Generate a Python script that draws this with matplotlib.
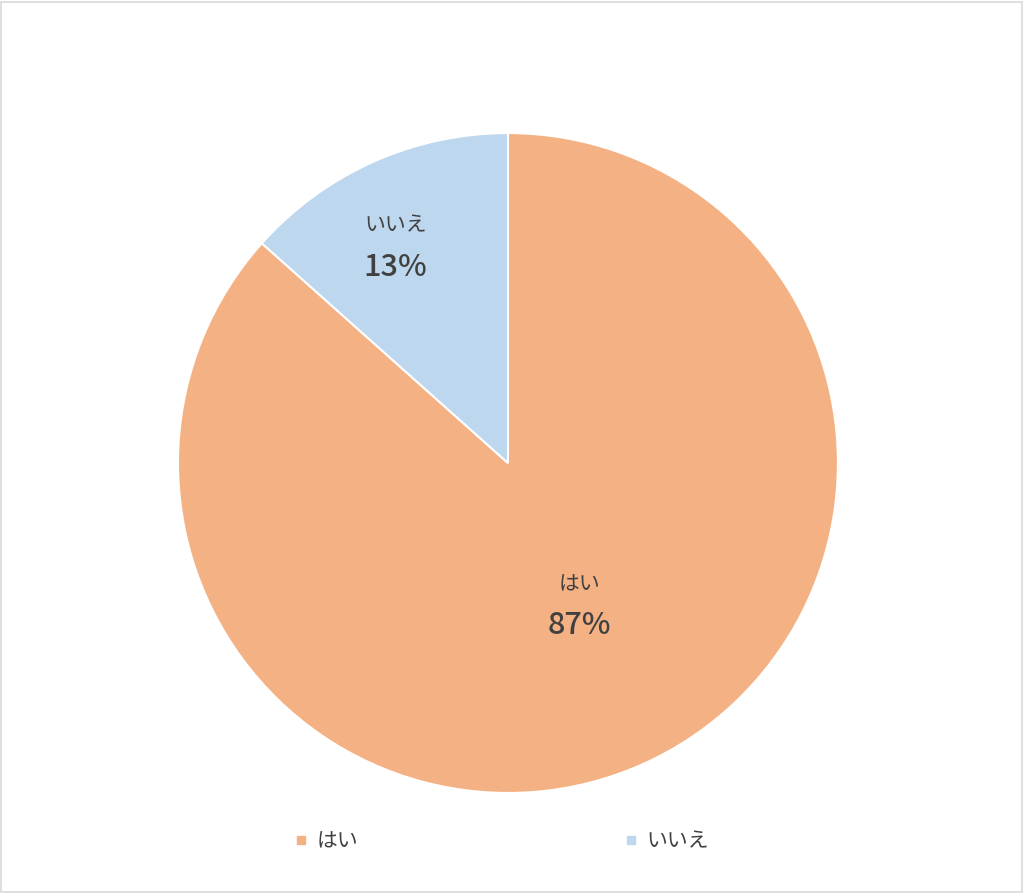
import numpy as np
import matplotlib
matplotlib.use('Agg')
import matplotlib.pyplot as plt
from matplotlib.patches import Rectangle

labels = ['はい', 'いいえ']
values = [86.6, 13.4]
colors = ['#F4B183', '#BDD7EE']
label_r = [0.474, 0.748]

plt.rcParams['font.family'] = ['Noto Sans CJK JP', 'DejaVu Sans']
text_color = '#404040'

fig = plt.figure(figsize=(10.24, 8.93), dpi=100)
fig.patches.append(Rectangle((0.001, 0.001), 0.997, 0.997, transform=fig.transFigure,
                             fill=False, edgecolor='#D9D9D9', linewidth=1.2))

ax = fig.add_axes([0.1738, 0.112, 0.6445, 0.739])
wedges, _ = ax.pie(values, colors=colors, startangle=90, counterclock=False,
                   wedgeprops=dict(edgecolor='white', linewidth=1.5))
ax.set_xlim(-1, 1)
ax.set_ylim(-1, 1)
ax.set_aspect('equal')

total = sum(values)
for w, name, v, r in zip(wedges, labels, values, label_r):
    # excel nudges the labels a little counter-clockwise of the slice middle
    mid = np.deg2rad((w.theta1 + w.theta2) / 2 + 3)
    x, y = r * np.cos(mid), r * np.sin(mid) - 0.009
    ax.text(x, y + 0.063, name, ha='center', va='center', fontsize=15, color=text_color)
    ax.text(x, y - 0.063, f'{round(v / total * 100)}%', ha='center', va='center',
            fontsize=22, color=text_color, fontweight='medium')

handles = [plt.Line2D([], [], marker='s', linestyle='', markersize=6, color=c) for c in colors]
leg = fig.legend(handles, labels, loc='center', bbox_to_anchor=(0.489, 0.058), ncol=2,
                 frameon=False, fontsize=15, handlelength=0.8, handletextpad=0.35,
                 columnspacing=12.7, labelcolor=text_color)

fig.savefig('out.png', dpi=100)
